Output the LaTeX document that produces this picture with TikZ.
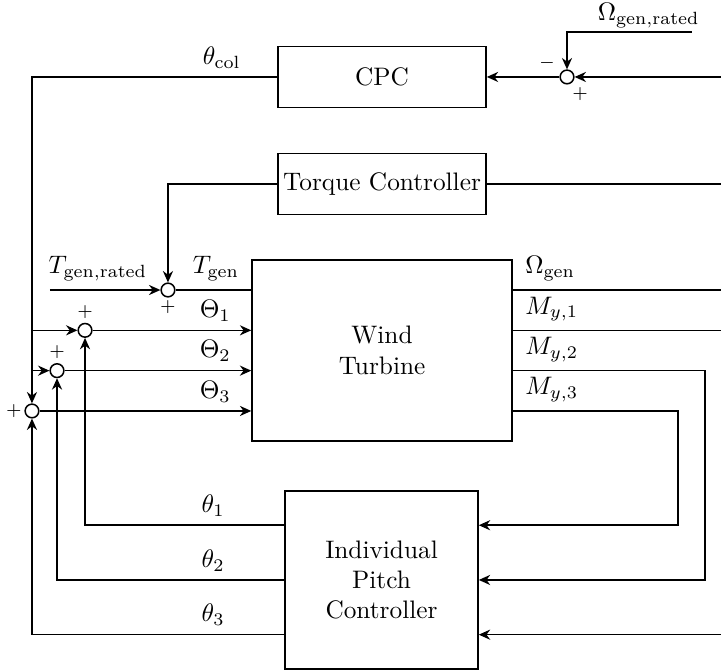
\documentclass[tikz,border=0pt]{standalone}
\usetikzlibrary{arrows.meta, calc}

\begin{document}
\begin{tikzpicture}[
    block/.style={draw, semithick, rectangle, align=center, inner sep=1pt},
    sumnode/.style={draw, semithick, circle, inner sep=0pt, minimum size=0.19cm},
    signlabel/.style={font=\scriptsize, inner sep=0pt},
    line/.style={semithick},
    >={Stealth[length=4.5pt,width=4pt]}
]
    % Define canvas limits
    \def\xRight{10.014}
    \def\yTop{9.319}
    \useasboundingbox (0,0) rectangle (\xRight,\yTop);

    % Draw blocks
    \node[block, minimum width=2.889cm, minimum height=0.847cm] (cpc) at (5.306,8.25) {CPC};
    \node[block, minimum width=2.889cm, minimum height=0.847cm] (tc) at (5.306,6.764) {Torque Controller};
    \node[block, minimum width=3.611cm, minimum height=2.52cm] (wt) at (5.306,4.451) {Wind\\Turbine};
    \node[block, minimum width=2.681cm, minimum height=2.472cm] (ipc) at (5.299,1.264) {Individual\\Pitch\\Controller};

    % Draw summing junctions
    \node[sumnode] (sumW) at (7.875,8.25) {};
    \node[sumnode] (sumT) at (2.333,5.291) {};
    \node[sumnode] (sum1) at (1.181,4.731) {};
    \node[sumnode] (sum2) at (0.792,4.171) {};
    \node[sumnode] (sum3) at (0.444,3.611) {};

    % Define free ends and ports
    \coordinate (omegaRef) at (9.611,8.875);
    \coordinate (omegaIn) at (\xRight,8.25);
    \coordinate (tcIn) at (\xRight,6.764);
    \coordinate (tRef) at (0.694,5.291);
    \coordinate (outOmega) at (\xRight,5.291);
    \coordinate (outM1) at (\xRight,4.731);
    \coordinate (loop2) at (9.792,0);
    \coordinate (loop3) at (9.417,0);
    \coordinate (ipcIn1) at ($(ipc.east)+(0,0.76)$);
    \coordinate (ipcIn3) at ($(ipc.east)+(0,-0.76)$);
    \coordinate (ipcOut1) at ($(ipc.west)+(0,0.76)$);
    \coordinate (ipcOut3) at ($(ipc.west)+(0,-0.76)$);

    % Draw collective pitch loop
    \draw[line,->] (omegaRef) -| (sumW);
    \draw[line,->] (omegaIn) -- (sumW);
    \draw[line,->] (sumW) -- (cpc);
    \draw[line,->] (cpc) -| (sum3);

    % Draw torque loop
    \draw[line] (tcIn) -- (tc);
    \draw[line,->] (tc) -| (sumT);
    \draw[line,->] (tRef) -- (sumT);
    \draw[line] (sumT) -- (wt.west |- sumT);

    % Draw pitch inputs of the turbine
    \draw[line,->] (sum3 |- sum1) -- (sum1);
    \draw[line,->] (sum3 |- sum2) -- (sum2);
    \draw[line,->] (sum1) -- (wt.west |- sum1);
    \draw[line,->] (sum2) -- (wt.west |- sum2);
    \draw[line,->] (sum3) -- (wt.west |- sum3);

    % Draw turbine outputs
    \draw[line] (wt.east |- sumT) -- (outOmega);
    \draw[line] (wt.east |- sum1) -- (outM1);
    \draw[line,->] (wt.east |- sum2) -| (loop2 |- ipc.east) -- (ipc.east);
    \draw[line,->] (wt.east |- sum3) -| (loop3 |- ipcIn1) -- (ipcIn1);
    \draw[line,->] (\xRight,0 |- ipcIn3) -- (ipcIn3);

    % Draw individual pitch feedback
    \draw[line,->] (ipcOut1) -| (sum1);
    \draw[line,->] (ipc.west) -| (sum2);
    \draw[line,->] (ipcOut3) -| (sum3);

    % Label signals
    \node[above, inner sep=1.5pt] at (9.01,8.875) {$\Omega_{\mathrm{gen,rated}}$};
    \node[above] at (3.08,8.25) {$\theta_{\mathrm{col}}$};
    \node[above] at (1.36,5.291) {$T_{\mathrm{gen,rated}}$};
    \node[above] at (3.0,5.291) {$T_{\mathrm{gen}}$};
    \node[above] at (2.99,4.731) {$\Theta_1$};
    \node[above] at (2.99,4.171) {$\Theta_2$};
    \node[above] at (2.99,3.611) {$\Theta_3$};
    \node[above right, xshift=0.5mm] at (wt.east |- sumT) {$\Omega_{\mathrm{gen}}$};
    \node[above right, xshift=0.5mm] at (wt.east |- sum1) {$M_{y,1}$};
    \node[above right, xshift=0.5mm] at (wt.east |- sum2) {$M_{y,2}$};
    \node[above right, xshift=0.5mm] at (wt.east |- sum3) {$M_{y,3}$};
    \node[above] at (2.96,2.024) {$\theta_1$};
    \node[above] at (2.96,1.264) {$\theta_2$};
    \node[above] at (2.96,0.504) {$\theta_3$};

    % Label signs of the junctions
    \node[signlabel] at ($(sumW)+(-0.278,0.194)$) {$-$};
    \node[signlabel] at ($(sumW)+(0.181,-0.236)$) {$+$};
    \node[signlabel] at ($(sumT)+(0,-0.236)$) {$+$};
    \node[signlabel] at ($(sum1)+(0,0.255)$) {$+$};
    \node[signlabel] at ($(sum2)+(0,0.26)$) {$+$};
    \node[signlabel] at ($(sum3)+(-0.25,0)$) {$+$};

\end{tikzpicture}
\end{document}
